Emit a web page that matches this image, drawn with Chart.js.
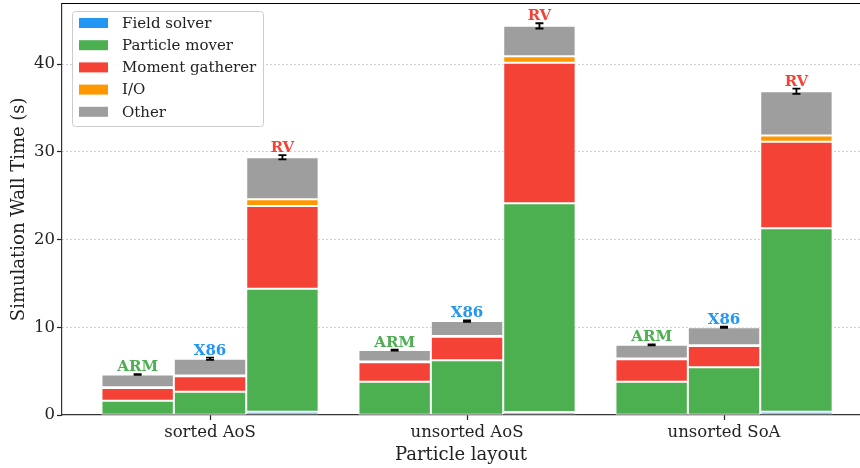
<!DOCTYPE html>
<html>
<head>
<meta charset="utf-8">
<script src="https://cdn.jsdelivr.net/npm/chart.js@4.4.1/dist/chart.umd.min.js"></script>
<style>
  html, body { margin: 0; padding: 0; background: #fff; }
  #wrap { width: 860px; height: 468px; position: relative; }
</style>
</head>
<body>
<div id="wrap"><canvas id="chart"></canvas></div>
<script>
// Categories
const layouts = ['sorted AoS', 'unsorted AoS', 'unsorted SoA'];
const archs = ['ARM', 'X86', 'RV'];
const components = ['Field solver', 'Particle mover', 'Moment gatherer', 'I/O', 'Other'];

// Seconds per component: rows = ARM, X86, RV; columns = layouts
const fieldSolver    = [[0.02, 0.02, 0.02], [0.03, 0.03, 0.03], [0.38, 0.34, 0.38]];
const particleMover  = [[1.60, 3.78, 3.78], [2.63, 6.20, 5.40], [14.0, 23.8, 20.9]];
const momentGatherer = [[1.45, 2.20, 2.55], [1.75, 2.68, 2.42], [9.45, 16.0, 9.85]];
const io             = [[0.10, 0.10, 0.10], [0.10, 0.10, 0.10], [0.75, 0.76, 0.72]];
const other          = [[1.45, 1.30, 1.55], [1.90, 1.70, 2.05], [4.80, 3.45, 5.05]];

// Error (± s) on the total
const totalErr = [[0.05, 0.05, 0.05], [0.12, 0.08, 0.08], [0.25, 0.3, 0.3]];

const yTicks = [0, 10, 20, 30, 40];

const colors = ['#2196F3', '#4CAF50', '#F44336', '#FF9800', '#9E9E9E'];
const archColors = ['#4CAF50', '#2196F3', '#F44336'];
const series = [fieldSolver, particleMover, momentGatherer, io, other];
const FONT = "'DejaVu Serif', serif";

const datasets = [];
series.forEach((comp, ci) => {
    archs.forEach((arch, ai) => {
        datasets.push({
            label: components[ci],
            stack: arch,
            data: comp[ai].map((v, li) => ({ x: li, y: v })),
            backgroundColor: colors[ci],
            borderColor: 'rgba(255,255,255,0.85)',
            borderWidth: 1,
            borderSkipped: false,
            categoryPercentage: 0.845,
            barPercentage: 1.0
        });
    });
});

function total(ai, li) {
    return series.reduce((s, comp) => s + comp[ai][li], 0);
}

// Error bars + arch labels + legend + top spine
const overlay = {
    id: 'overlay',
    afterDatasetsDraw(chart) {
        const ctx = chart.ctx;
        const y = chart.scales.y;
        const area = chart.chartArea;
        ctx.save();
        ctx.strokeStyle = '#000';
        ctx.lineWidth = 1.2;
        ctx.beginPath();
        ctx.moveTo(area.left, area.top);
        ctx.lineTo(area.right, area.top);
        ctx.stroke();

        archs.forEach((arch, ai) => {
            const meta = chart.getDatasetMeta(4 * 3 + ai); // "Other" dataset of this arch
            layouts.forEach((l, li) => {
                const bx = meta.data[li].x;
                const t = total(ai, li);
                const e = totalErr[ai][li];
                const yTop = y.getPixelForValue(t + e);
                const yBot = y.getPixelForValue(t - e);
                ctx.strokeStyle = '#000';
                ctx.lineWidth = 1.8;
                ctx.beginPath();
                ctx.moveTo(bx, yTop); ctx.lineTo(bx, yBot);
                ctx.moveTo(bx - 4, yTop); ctx.lineTo(bx + 4, yTop);
                ctx.moveTo(bx - 4, yBot); ctx.lineTo(bx + 4, yBot);
                ctx.stroke();
                ctx.fillStyle = archColors[ai];
                ctx.font = 'bold 15px ' + FONT;
                ctx.textAlign = 'center';
                ctx.textBaseline = 'alphabetic';
                ctx.fillText(arch, bx, yTop - 3);
            });
        });

        // legend
        const lx = 72, ly = 11, lw = 191, lh = 115;
        ctx.fillStyle = 'rgba(255,255,255,0.85)';
        ctx.strokeStyle = '#cccccc';
        ctx.lineWidth = 1;
        ctx.beginPath();
        ctx.roundRect(lx + 0.5, ly + 0.5, lw, lh, 3);
        ctx.fill();
        ctx.stroke();
        ctx.font = '15px ' + FONT;
        ctx.textAlign = 'left';
        ctx.textBaseline = 'middle';
        components.forEach((c, ci) => {
            const ry = ly + 12 + ci * 22.2;
            ctx.fillStyle = colors[ci];
            ctx.fillRect(lx + 7, ry - 5, 29, 10);
            ctx.fillStyle = '#222';
            ctx.fillText(c, lx + 50, ry + 1);
        });
        ctx.restore();
    }
};

new Chart(document.getElementById('chart'), {
    type: 'bar',
    data: { datasets },
    plugins: [overlay],
    options: {
        responsive: true,
        maintainAspectRatio: false,
        animation: false,
        layout: { padding: { top: 3.5, right: 0, left: 0, bottom: 0 } },
        plugins: {
            legend: { display: false },
            tooltip: { enabled: false }
        },
        scales: {
            x: {
                type: 'linear',
                offset: false,
                min: -0.576,
                max: 2.529,
                afterBuildTicks: (scale) => { scale.ticks = layouts.map((_, i) => ({ value: i })); },
                afterFit: (scale) => { scale.height = 53; scale.paddingLeft = 0; scale.paddingRight = 0; },
                ticks: {
                    callback: (v) => layouts[v],
                    color: '#222',
                    font: { family: FONT, size: 16.5 },
                    padding: 3,
                    maxRotation: 0
                },
                grid: { offset: false, drawOnChartArea: false, drawTicks: true, tickLength: 5, tickColor: '#222', tickWidth: 1.2 },
                border: { display: true, color: '#333', width: 1.2 },
                title: {
                    display: true,
                    text: 'Particle layout',
                    color: '#222',
                    font: { family: FONT, size: 18 },
                    padding: { top: 0, bottom: 2 }
                }
            },
            y: {
                stacked: true,
                min: 0,
                max: 46.9,
                afterBuildTicks: (scale) => { scale.ticks = yTicks.map(v => ({ value: v })); },
                afterFit: (scale) => { scale.width = 62; scale.paddingTop = 0; scale.paddingBottom = 0; },
                ticks: {
                    color: '#222',
                    font: { family: FONT, size: 16.5 },
                    padding: 2
                },
                grid: {
                    color: (c) => c.tick && c.tick.value === 0 ? 'rgba(0,0,0,0)' : '#b8b8b8',
                    lineWidth: 0.9,
                    tickLength: 5,
                    tickColor: '#222',
                    tickWidth: 1.2
                },
                border: { display: true, color: '#333', width: 1.2, dash: [1.5, 2.5] },
                title: {
                    display: true,
                    text: 'Simulation Wall Time (s)',
                    color: '#222',
                    font: { family: FONT, size: 18 },
                    padding: { top: 9, bottom: 4 }
                }
            }
        }
    }
});
</script>
</body>
</html>
